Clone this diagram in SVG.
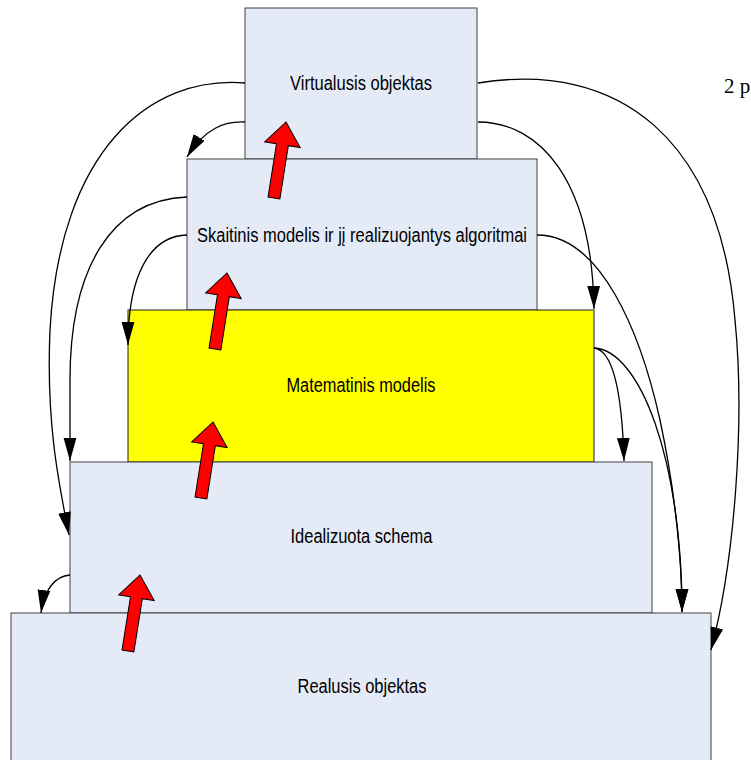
<svg xmlns="http://www.w3.org/2000/svg" width="751" height="760" viewBox="0 0 751 760">
  <style>
    .box { fill: #e5ebf6; stroke: #404040; stroke-width: 1; }
    .yel { fill: #ffff00; stroke: #202020; stroke-width: 1; }
    .lbl { font-family: "Liberation Sans", Arial, sans-serif; font-size: 20px; fill: #000; text-anchor: middle; }
    .con { fill: none; stroke: #000; stroke-width: 1.3; }
    .up { fill: #ff0000; stroke: #000; stroke-width: 1; stroke-linejoin: miter; }
    .note { font-family: "Liberation Serif", "Times New Roman", serif; font-size: 21px; fill: #000; }
  </style>
  <defs>
    <marker id="ah" markerUnits="userSpaceOnUse" viewBox="0 0 24 14" markerWidth="24" markerHeight="14" refX="23" refY="7" orient="auto">
      <path d="M0,0.6 L23,7 L0,13.4 z" fill="#000"/>
    </marker>
    <polygon id="redArrow" class="up" points="0,0 18,23 6,23 6,77 -6,77 -6,23 -18,23"/>
  </defs>

  <!-- levels, top to bottom -->
  <g id="virtual">
    <rect class="box" x="245" y="8" width="232" height="151"/>
    <text class="lbl" x="361" y="90" textLength="142" lengthAdjust="spacingAndGlyphs">Virtualusis objektas</text>
  </g>
  <g id="numeric">
    <rect class="box" x="187" y="159" width="350" height="151"/>
    <text class="lbl" x="362" y="242" textLength="330" lengthAdjust="spacingAndGlyphs">Skaitinis modelis ir jį realizuojantys algoritmai</text>
  </g>
  <g id="math">
    <rect class="yel" x="128" y="310" width="466" height="152"/>
    <text class="lbl" x="361" y="392" textLength="149" lengthAdjust="spacingAndGlyphs">Matematinis modelis</text>
  </g>
  <g id="ideal">
    <rect class="box" x="70" y="462" width="582" height="151"/>
    <text class="lbl" x="361.5" y="543" textLength="142" lengthAdjust="spacingAndGlyphs">Idealizuota schema</text>
  </g>
  <g id="real">
    <rect class="box" x="11" y="613" width="700" height="160"/>
    <text class="lbl" x="362" y="693" textLength="129" lengthAdjust="spacingAndGlyphs">Realusis objektas</text>
  </g>

  <!-- upward block arrows between levels -->
  <g id="progress">
    <use href="#redArrow" transform="translate(286,122) rotate(9)"/>
    <use href="#redArrow" transform="translate(227,273) rotate(9)"/>
    <use href="#redArrow" transform="translate(213,422) rotate(9)"/>
    <use href="#redArrow" transform="translate(140,575) rotate(9)"/>
  </g>

  <!-- feedback connectors -->
  <g id="connectors" marker-end="url(#ah)">
    <path class="con" d="M245,83 C150,75 60,150 50,330 C46,420 58,480 69,535"/>
    <path class="con" d="M245,122 C225,121 205,128 187,157"/>
    <path class="con" d="M187,197 C110,200 70,270 70,380 C70,420 70,440 70,461"/>
    <path class="con" d="M187,235 C150,236 128,275 128,345"/>
    <path class="con" d="M70,575 C55,576 44,590 41,613"/>
    <path class="con" d="M478,83 C620,60 720,140 735,320 C745,420 735,560 711,650"/>
    <path class="con" d="M478,122 C540,122 592,180 594,309"/>
    <path class="con" d="M537,235 C600,235 640,330 660,420 C675,490 682,560 682,612"/>
    <path class="con" d="M594,348 C612,350 622,390 624,461"/>
    <path class="con" d="M594,348 C640,350 682,460 682,612"/>
  </g>

  <text class="note" x="724" y="93">2 p</text>
</svg>
